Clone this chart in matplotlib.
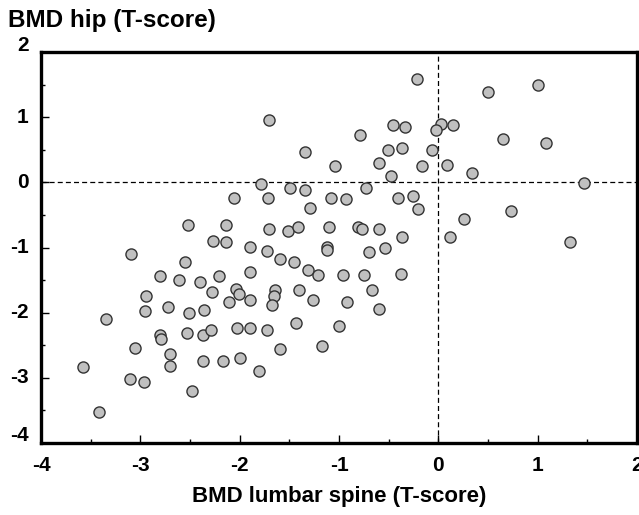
import numpy as np
import matplotlib.pyplot as plt
import matplotlib.transforms as mtransforms
from matplotlib.ticker import MultipleLocator

plt.rcParams['font.family'] = ['Liberation Sans', 'DejaVu Sans']
plt.rcParams['axes.unicode_minus'] = False

# lumbar spine T-score (x) and hip T-score (y)
spine = [-2.06, -2.52, -2.14, -2.27, -2.14, -0.21, -1.70, -0.46, -0.34, 0.03,
         -0.02, -0.79, -1.34, -0.51, -0.37, -0.06, -0.60, -0.16, -1.04, -0.48,
         -1.79, -1.49, -1.34, -0.73, -1.71, -1.08, -0.93, -0.41, -0.26, -0.20,
         -1.29, -1.70, -1.51, -1.41, -1.10, -0.81, -0.77, -0.60, -0.37, -1.90,
         -1.73, -1.12, -1.12, -0.70, -0.54, 0.50, 1.00, 0.15, 0.65, 1.08,
         0.09, 0.34, 1.47, 0.73, 0.26, 0.12, 1.33,
         -3.09, -2.55, -2.80, -2.61, -2.40, -2.21, -2.28, -2.04, -2.01, -2.11,
         -2.94, -2.95, -2.72, -2.51, -2.36, -3.35, -2.80, -2.79, -2.53, -2.37,
         -2.29, -2.03, -3.05, -2.70, -2.70, -2.37, -2.17, -2.00, -3.58, -3.10,
         -2.96, -2.48, -3.42, -1.59, -1.45, -1.90, -1.31, -1.21, -0.96, -0.75,
         -0.38, -1.90, -1.64, -1.65, -1.67, -1.40, -1.26, -0.92, -0.67, -0.60,
         -1.90, -1.73, -1.43, -1.00, -1.59, -1.17, -1.805]
hip = [-0.24, -0.66, -0.66, -0.90, -0.92, 1.58, 0.95, 0.88, 0.85, 0.90,
       0.80, 0.72, 0.47, 0.49, 0.52, 0.50, 0.30, 0.25, 0.25, 0.09,
       -0.03, -0.09, -0.11, -0.09, -0.24, -0.24, -0.26, -0.24, -0.21, -0.41,
       -0.39, -0.71, -0.74, -0.69, -0.69, -0.69, -0.71, -0.72, -0.84, -0.99,
       -1.05, -0.99, -1.04, -1.07, -1.0, 1.38, 1.50, 0.88, 0.67, 0.60,
       0.26, 0.14, -0.01, -0.44, -0.56, -0.84, -0.92,
       -1.10, -1.23, -1.43, -1.50, -1.53, -1.43, -1.68, -1.63, -1.71, -1.83,
       -1.75, -1.98, -1.91, -2.01, -1.96, -2.09, -2.34, -2.41, -2.31, -2.34,
       -2.26, -2.24, -2.54, -2.64, -2.82, -2.74, -2.74, -2.69, -2.84, -3.02,
       -3.07, -3.20, -3.53, -1.17, -1.22, -1.38, -1.35, -1.42, -1.42, -1.42,
       -1.40, -1.80, -1.65, -1.75, -1.88, -1.65, -1.81, -1.83, -1.65, -1.95,
       -2.23, -2.26, -2.16, -2.21, -2.56, -2.51, -2.89]

ticks = [-4, -3, -2, -1, 0, 1, 2]
tick_labels = ['-4', '-3', '-2', '-1', '0', '1', '2']

fig = plt.figure(figsize=(6.39, 5.15), dpi=100)
ax = fig.add_axes([0.0642, 0.1398, 0.9327, 0.7592])

ax.axhline(0, color='black', lw=0.9, ls=(0, (4, 2.5)), zorder=1)
ax.axvline(0, color='black', lw=0.9, ls=(0, (4, 2.5)), zorder=1)
ax.scatter(spine, hip, s=64, facecolor='#c0c0c0', edgecolor='#333333',
           linewidths=1.0, zorder=3)

ax.set_xlim(-4, 2)
ax.set_ylim(-4, 2)
ax.xaxis.set_minor_locator(MultipleLocator(0.5))
ax.yaxis.set_minor_locator(MultipleLocator(0.5))
ax.tick_params(which='major', direction='in', length=6, width=1.0,
               labelsize=15, pad=9)
ax.tick_params(which='minor', direction='in', length=3, width=1.0)
ax.set_xticks(ticks)
ax.set_xticklabels(tick_labels, fontweight='bold')
ax.set_yticks(ticks)
ax.set_yticklabels(tick_labels, fontweight='bold')
for s in ax.spines.values():
    s.set_linewidth(2.4)

# y labels sit a little high, the end ones more so
shifts = [0.10, 0.02, 0.02, 0.02, 0.02, 0.02, 0.09]
for lab, dy in zip(ax.get_yticklabels(), shifts):
    lab.set_transform(lab.get_transform() +
                      mtransforms.ScaledTranslation(0, dy, fig.dpi_scale_trans))

ax.set_xlabel('BMD lumbar spine (T-score)', fontsize=16, fontweight='bold',
              labelpad=8)
fig.text(0.013, 0.96, 'BMD hip (T-score)', fontsize=17.5, fontweight='bold',
         ha='left', va='center')

fig.savefig('out.png', dpi=100)
